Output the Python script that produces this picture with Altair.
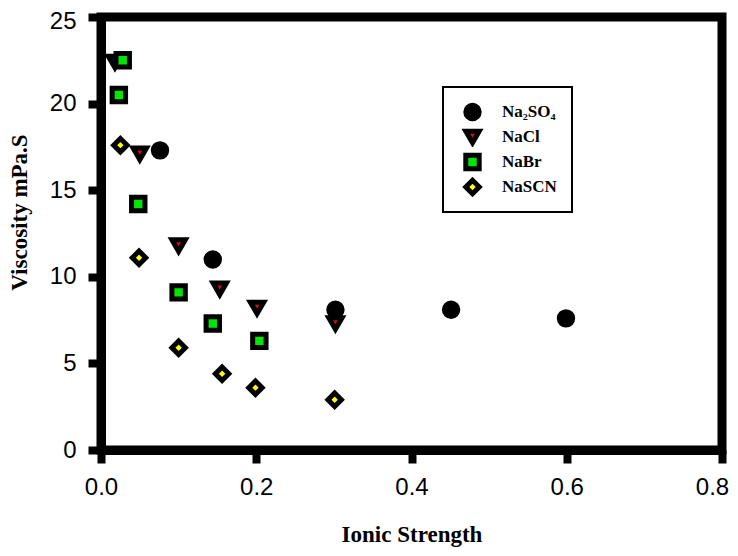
import altair as alt
import pandas as pd

salts = ["Na₂SO₄", "NaCl", "NaBr", "NaSCN"]
shapes = ["circle", "triangle-down", "square", "diamond"]
fills = ["#000000", "#cc1111", "#00e600", "#ffff00"]

na2so4_x = [0.076, 0.144, 0.302, 0.451, 0.599]
na2so4_y = [17.3, 11.0, 8.1, 8.1, 7.6]
nacl_x = [0.018, 0.050, 0.100, 0.153, 0.201, 0.302]
nacl_y = [22.4, 17.1, 11.8, 9.3, 8.2, 7.3]
nabr_x = [0.023, 0.028, 0.048, 0.100, 0.144, 0.204]
nabr_y = [20.5, 22.5, 14.2, 9.1, 7.3, 6.3]
nascn_x = [0.025, 0.049, 0.100, 0.156, 0.199, 0.301]
nascn_y = [17.6, 11.1, 5.9, 4.4, 3.6, 2.9]

x_ticks = [0.0, 0.2, 0.4, 0.6, 0.8]
y_ticks = [0, 5, 10, 15, 20, 25]

rows = []
for k, (name, xs, ys) in enumerate(zip(salts, [na2so4_x, nacl_x, nabr_x, nascn_x],
                                      [na2so4_y, nacl_y, nabr_y, nascn_y])):
    for a, b in zip(xs, ys):
        rows.append({"salt": name, "I": a, "visc": b, "order": k})
df = pd.DataFrame(rows)

leg = alt.Legend(title=None, orient="none", legendX=342, legendY=70)

chart = alt.Chart(df).mark_point(filled=True, size=180, strokeWidth=5,
                                 opacity=1).encode(
    x=alt.X("I:Q", scale=alt.Scale(domain=[0, 0.8], nice=False),
            axis=alt.Axis(title="Ionic Strength", values=x_ticks, format=".1f",
                          labelFlush=False,
                          labelOffset={"condition": {"test": "datum.value > 0.7",
                                                     "value": -10},
                                       "value": 0},
                          titleY=84, titleBaseline="middle")),
    y=alt.Y("visc:Q", scale=alt.Scale(domain=[0, 25], nice=False),
            axis=alt.Axis(title="Viscosity mPa.S", values=y_ticks,
                          labelFlush=False,
                          labelOffset={"condition": {"test": "datum.value > 24",
                                                     "value": 4},
                                       "value": 0},
                          titleX=-82, titleY=195, titleBaseline="middle")),
    shape=alt.Shape("salt:N", scale=alt.Scale(domain=salts, range=shapes),
                    legend=leg),
    fill=alt.Fill("salt:N", scale=alt.Scale(domain=salts, range=fills),
                  legend=leg),
    stroke=alt.Stroke("salt:N", scale=alt.Scale(domain=salts,
                                                range=["black"] * 4),
                      legend=leg),
    order=alt.Order("order:Q"),
).properties(
    width=621, height=433,
    autosize=alt.AutoSizeParams(type="none"),
    padding={"left": 93, "top": 9, "right": 8, "bottom": 98},
).configure_view(
    stroke="black", strokeWidth=9
).configure_axis(
    grid=False,
    domainColor="black", domainWidth=9,
    tickColor="black", tickWidth=8, tickSize=13,
    labelFont="Liberation Sans", labelFontSize=24, labelColor="black",
    labelPadding=12,
    titleFont="Liberation Serif", titleFontSize=23, titleFontWeight="bold",
    titleColor="black",
).configure_legend(
    strokeColor="black", strokeWidth=2, fillColor="white",
    padding=15, symbolOffset=5, symbolSize=180, symbolStrokeWidth=5,
    clipHeight=20, rowPadding=5, labelOffset=20,
    labelFont="Liberation Serif", labelFontSize=17, labelFontWeight="bold",
    labelColor="black",
)

chart.save("out.html", embed_options={"renderer": "svg", "actions": False})
